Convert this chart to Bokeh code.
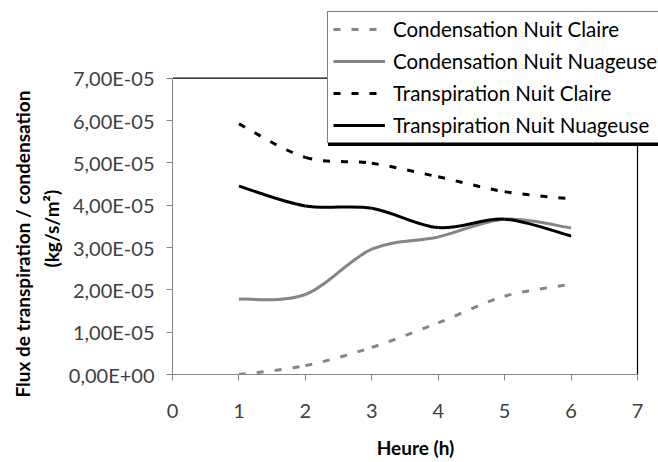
from bokeh.plotting import figure
from bokeh.models import (Legend, LegendItem, FixedTicker, Title,
                          CustomJSTickFormatter, Range1d, ColumnDataSource)
from bokeh.embed import file_html
from bokeh.resources import INLINE

# ---- data ----
hours = [1, 2, 3, 4, 5, 6]
cond_claire = [0.00e-5, 0.21e-5, 0.64e-5, 1.22e-5, 1.85e-5, 2.13e-5]
cond_nuageuse = [1.78e-5, 1.89e-5, 2.96e-5, 3.25e-5, 3.67e-5, 3.46e-5]
trans_claire = [5.92e-5, 5.13e-5, 4.99e-5, 4.67e-5, 4.32e-5, 4.15e-5]
trans_nuageuse = [4.45e-5, 3.98e-5, 3.93e-5, 3.47e-5, 3.67e-5, 3.27e-5]
x_ticks = [0, 1, 2, 3, 4, 5, 6, 7]
y_ticks = [0, 1e-5, 2e-5, 3e-5, 4e-5, 5e-5, 6e-5, 7e-5]
series_names = ["Condensation Nuit Claire", "Condensation Nuit Nuageuse",
                "Transpiration Nuit Claire", "Transpiration Nuit Nuageuse"]
X_MAX = 7
Y_MAX = 7e-5

FONT = "Lato"
W, H = 658, 462
FRAME_LEFT, FRAME_BOTTOM = 172, 88          # borders around the frame (px)
PLOT_RIGHT_PX, PLOT_TOP_PX = 637, 77.7      # where x=7 and y=7e-5 sit


def smooth_source(xs, ys):
    """Bezier control points of an Excel-style smoothed line through the data."""
    n = len(xs)
    d = dict(x0=[], y0=[], x1=[], y1=[], cx0=[], cy0=[], cx1=[], cy1=[])
    for i in range(n - 1):
        pm = i - 1 if i > 0 else i
        pp = i + 2 if i + 2 < n else i + 1
        d["x0"].append(xs[i]); d["y0"].append(ys[i])
        d["x1"].append(xs[i + 1]); d["y1"].append(ys[i + 1])
        d["cx0"].append(xs[i] + (xs[i + 1] - xs[pm]) / 6)
        d["cy0"].append(ys[i] + (ys[i + 1] - ys[pm]) / 6)
        d["cx1"].append(xs[i + 1] - (xs[pp] - xs[i]) / 6)
        d["cy1"].append(ys[i + 1] - (ys[pp] - ys[i]) / 6)
    return ColumnDataSource(d)


# the frame reaches the top and right edges of the canvas so that the legend
# (which overlaps the plot area's border) is not clipped; axes are bounded.
frame_w = W - FRAME_LEFT
frame_h = H - FRAME_BOTTOM
x_end = X_MAX * frame_w / (PLOT_RIGHT_PX - FRAME_LEFT)
y_end = Y_MAX * frame_h / (frame_h - PLOT_TOP_PX)

p = figure(width=W, height=H, output_backend="svg", toolbar_location=None,
           x_range=Range1d(0, x_end), y_range=Range1d(0, y_end),
           min_border_left=FRAME_LEFT, min_border_right=0, min_border_top=0,
           min_border_bottom=FRAME_BOTTOM)
p.outline_line_color = None
p.grid.visible = False
p.background_fill_color = "white"
p.border_fill_color = "white"

# plot-area border (top and right)
p.line(x=[0, X_MAX, X_MAX], y=[Y_MAX, Y_MAX, 0], line_color="black", line_width=1.2)

styles = [
    dict(line_color="#858585", line_width=3, line_dash="7 11"),
    dict(line_color="#858585", line_width=3),
    dict(line_color="black", line_width=3, line_dash="7 11"),
    dict(line_color="black", line_width=3),
]
all_series = [cond_claire, cond_nuageuse, trans_claire, trans_nuageuse]
renderers = []
for ys, st in zip(all_series, styles):
    src = smooth_source(hours, ys)
    r = p.bezier(x0="x0", y0="y0", x1="x1", y1="y1", cx0="cx0", cy0="cy0",
                 cx1="cx1", cy1="cy1", source=src, **st)
    renderers.append(r)

# axes
for ax in (p.xaxis[0], p.yaxis[0]):
    ax.axis_line_color = "#868686"
    ax.major_tick_line_color = "#868686"
    ax.minor_tick_line_color = None
    ax.major_tick_in = 0
    ax.major_tick_out = 6
    ax.major_label_text_font = FONT
    ax.major_label_text_font_size = "20px"
    ax.major_label_text_color = "#404040"

p.xaxis.bounds = (0, X_MAX)
p.xaxis.ticker = FixedTicker(ticks=x_ticks)
p.xaxis.major_label_standoff = 23
p.xaxis.axis_label = "Heure (h)"
p.xaxis.axis_label_standoff = 15
p.xaxis.axis_label_text_font = FONT
p.xaxis.axis_label_text_font_style = "bold"
p.xaxis.axis_label_text_font_size = "19px"
p.xaxis.axis_label_text_color = "black"

p.yaxis.bounds = (0, Y_MAX)
p.yaxis.ticker = FixedTicker(ticks=y_ticks)
p.yaxis.major_label_standoff = 12
p.yaxis.formatter = CustomJSTickFormatter(code="""
const s = tick.toExponential(2).replace('.', ',');
return s.replace(/e([+-])(\\d+)$/, (m, sg, d) => 'E' + sg + (d.length < 2 ? '0' + d : d));
""")

# y-axis title, two lines (inner line first); bottom-anchored with an offset
title_style = dict(text_font=FONT, text_font_style="bold", text_font_size="19px",
                   text_color="black", align="left")
p.add_layout(Title(text="(kg/s/m²)", standoff=6, offset=107, **title_style), "left")
p.add_layout(Title(text="Flux de transpiration / condensation", standoff=2, offset=-23,
                   **title_style), "left")

legend_style = dict(orientation="vertical", label_text_font=FONT,
                    label_text_font_size="20.5px", glyph_width=52, glyph_height=24,
                    label_height=24, spacing=8, padding=5, margin=0, label_standoff=8)

# thick bottom edge (shadow) of the legend box
shadow = Legend(items=[LegendItem(label=" ", renderers=[r]) for r in renderers],
                location=(156, 228), border_line_color="black", border_line_width=1,
                background_fill_color="black", background_fill_alpha=1.0,
                label_text_alpha=0, label_width=400, **legend_style)
p.add_layout(shadow)

legend = Legend(items=[LegendItem(label=n, renderers=[r]) for n, r in zip(series_names, renderers)],
                location=(155, 231), border_line_color="black", border_line_width=1.2,
                background_fill_color="white", background_fill_alpha=1.0,
                label_text_color="black", **legend_style)
p.add_layout(legend)

open("out.html", "w").write(file_html(p, INLINE))
